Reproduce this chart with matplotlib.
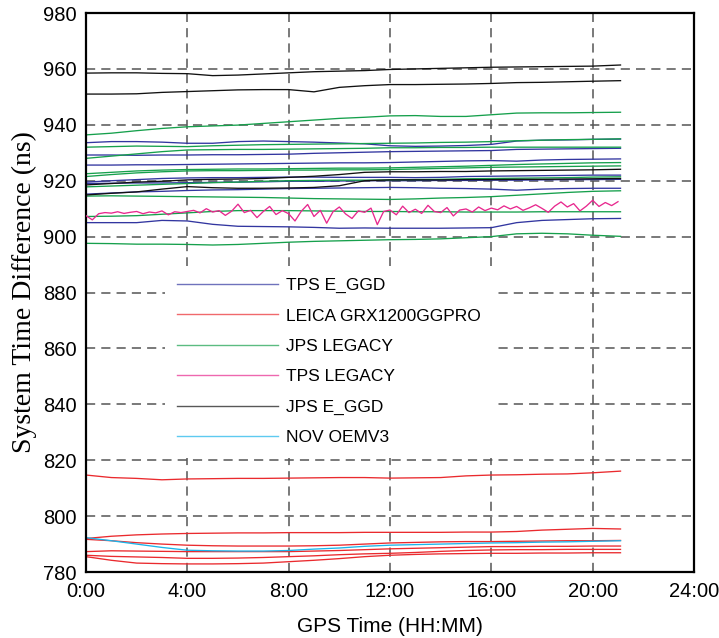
import matplotlib
matplotlib.use("Agg")
import matplotlib.pyplot as plt
from matplotlib.ticker import FuncFormatter

# ---------------- data ----------------
hours = [0, 1, 2, 3, 4, 5, 6, 7, 8, 9, 10, 11, 12, 13, 14, 15, 16, 17, 18, 19, 20, 21.1]

# TPS E_GGD (blue)
tps_eggd_1 = [933.6, 934.0, 934.0, 933.8, 933.4, 933.4, 934.0, 934.2, 934.0, 933.8, 933.5, 933.2, 932.5, 932.3, 932.4, 932.6, 933.0, 934.2, 934.5, 934.6, 934.8, 934.9]
tps_eggd_2 = [929.2, 929.2, 929.1, 929.2, 929.2, 929.3, 929.3, 929.4, 929.5, 929.8, 930.0, 930.2, 930.4, 930.5, 930.6, 930.7, 930.8, 931.2, 931.3, 931.4, 931.5, 931.6]
tps_eggd_3 = [925.6, 925.6, 925.7, 925.7, 925.8, 925.9, 926.0, 926.1, 926.2, 926.3, 926.4, 926.4, 926.5, 926.7, 926.9, 927.1, 927.2, 927.0, 927.4, 927.6, 927.7, 927.8]
tps_eggd_4 = [919.5, 920.0, 920.4, 920.8, 921.0, 921.1, 921.1, 921.2, 921.3, 921.3, 921.2, 921.2, 921.2, 921.1, 921.2, 921.5, 921.6, 921.7, 921.8, 921.9, 922.0, 922.0]
tps_eggd_5 = [915.2, 915.6, 916.0, 916.2, 916.5, 916.7, 916.8, 917.0, 917.2, 917.3, 917.4, 917.5, 917.6, 917.5, 917.3, 917.2, 917.0, 916.6, 917.0, 917.2, 917.3, 917.3]
tps_eggd_6 = [919.0, 919.1, 919.2, 919.2, 919.3, 919.4, 919.5, 919.6, 919.8, 919.8, 919.9, 920.0, 920.0, 920.0, 920.1, 920.1, 920.2, 920.2, 920.3, 920.4, 920.4, 920.5]
tps_eggd_7 = [905.0, 905.0, 905.0, 905.8, 905.6, 904.4, 903.7, 903.6, 903.5, 903.3, 903.0, 903.1, 903.0, 903.0, 903.0, 903.1, 903.2, 905.0, 905.8, 906.1, 906.4, 906.5]

# LEICA GRX1200GGPRO (red)
leica_0 = [814.7, 813.8, 813.5, 813.0, 813.3, 813.4, 813.5, 813.5, 813.6, 813.7, 813.8, 813.8, 813.6, 813.7, 813.8, 814.4, 814.7, 814.8, 815.0, 815.1, 815.5, 816.1]
leica_1 = [792.0, 792.8, 793.3, 793.6, 793.8, 793.9, 794.0, 794.0, 794.1, 794.1, 794.1, 794.2, 794.2, 794.2, 794.2, 794.3, 794.3, 794.5, 795.0, 795.3, 795.6, 795.4]
leica_2 = [791.7, 791.2, 790.5, 790.0, 789.6, 789.4, 789.3, 789.3, 789.3, 789.4, 789.6, 790.0, 790.4, 790.6, 790.8, 790.9, 790.9, 791.0, 791.1, 791.2, 791.2, 791.3]
leica_3 = [787.3, 787.6, 787.5, 787.4, 787.3, 787.3, 787.3, 787.3, 787.3, 787.5, 787.7, 788.0, 788.3, 788.5, 788.7, 788.9, 789.1, 789.1, 789.2, 789.2, 789.3, 789.3]
leica_4 = [786.0, 785.6, 785.4, 785.2, 784.9, 784.9, 785.0, 785.2, 785.5, 785.8, 786.2, 786.5, 786.7, 787.0, 787.4, 787.7, 787.9, 788.0, 788.0, 788.1, 788.1, 788.1]
leica_5 = [785.5, 784.2, 783.2, 783.0, 782.9, 782.9, 783.0, 783.2, 783.7, 784.2, 784.8, 785.5, 786.0, 786.3, 786.5, 786.6, 786.7, 786.7, 786.8, 786.8, 786.9, 786.9]

# JPS LEGACY (green)
jps_leg_1 = [936.4, 937.0, 937.9, 938.7, 939.3, 939.6, 939.9, 940.5, 941.1, 941.7, 942.3, 942.7, 943.2, 943.3, 943.0, 943.0, 943.6, 944.2, 944.3, 944.3, 944.4, 944.5]
jps_leg_2 = [932.0, 932.2, 932.4, 932.3, 932.2, 932.5, 932.7, 932.9, 933.0, 933.1, 933.2, 933.3, 933.4, 933.5, 933.7, 933.8, 934.0, 934.3, 934.5, 934.7, 934.8, 935.0]
jps_leg_3 = [928.0, 928.8, 929.6, 930.4, 931.0, 931.1, 931.2, 931.2, 931.3, 931.4, 931.5, 931.6, 931.8, 931.8, 931.9, 931.9, 932.0, 932.0, 932.0, 932.0, 932.0, 932.0]
jps_leg_4 = [922.5, 923.0, 923.5, 923.8, 924.0, 924.1, 924.2, 924.2, 924.3, 924.4, 924.5, 924.5, 924.6, 924.8, 925.0, 925.2, 925.5, 925.8, 926.0, 926.2, 926.4, 926.5]
jps_leg_5 = [921.5, 922.2, 922.8, 923.2, 923.5, 923.6, 923.6, 923.7, 923.8, 923.8, 923.9, 923.9, 924.0, 924.2, 924.4, 924.6, 924.8, 924.9, 925.0, 925.1, 925.2, 925.3]
jps_leg_6 = [917.8, 918.1, 918.4, 918.7, 919.0, 919.3, 919.5, 919.8, 920.0, 920.1, 920.2, 920.2, 920.3, 920.4, 920.5, 920.7, 920.8, 920.9, 921.0, 921.1, 921.3, 921.4]
jps_leg_7 = [914.5, 914.6, 914.5, 914.4, 914.3, 914.2, 914.1, 914.0, 913.8, 913.6, 913.5, 913.4, 913.3, 913.5, 913.8, 914.0, 914.3, 914.8, 915.3, 915.8, 916.2, 916.4]
jps_leg_8 = [907.2, 907.3, 907.5, 908.0, 908.5, 909.0, 909.3, 909.3, 909.3, 909.2, 909.1, 909.0, 909.0, 908.9, 908.9, 908.8, 908.8, 908.8, 908.9, 908.9, 908.9, 908.9]
jps_leg_9 = [897.6, 897.5, 897.3, 897.3, 897.2, 897.0, 897.2, 897.6, 898.0, 898.3, 898.5, 898.7, 898.9, 899.0, 899.2, 899.6, 900.0, 901.0, 901.2, 901.0, 900.5, 900.1]

# TPS LEGACY (pink), sampled every quarter hour
tps_leg_hours = [i * 0.25 for i in range(85)]
tps_leg = [907.5, 906.0, 908.2, 908.6,
           908.4, 908.9, 908.3, 908.7,
           909.0, 908.2, 908.8, 908.5,
           909.2, 907.8, 908.9, 908.6,
           909.0, 909.4, 908.5, 910.0,
           908.8, 909.3, 907.6, 909.1,
           911.6, 908.6, 909.4, 906.8,
           909.0, 910.8, 907.9, 909.3,
           908.2, 905.6, 909.1, 911.5,
           907.2, 909.4, 904.8, 908.9,
           910.6, 908.1, 906.5, 909.2,
           908.7, 910.2, 904.3, 909.0,
           909.5, 907.8, 910.9, 908.6,
           909.8, 908.3, 911.2, 909.0,
           908.6, 910.4, 907.4, 909.5,
           909.9, 908.8, 910.6, 909.3,
           910.2, 909.6, 911.0, 909.9,
           910.8, 909.4, 910.3, 911.4,
           910.1, 908.7, 910.9, 912.4,
           910.6, 911.8, 909.2, 910.9,
           913.0, 910.8, 912.2, 911.1,
           912.5]

# JPS E_GGD (black)
jps_eggd_1 = [958.5, 958.6, 958.6, 958.4, 958.3, 957.6, 957.8, 958.2, 958.6, 959.0, 959.2, 959.4, 959.8, 960.0, 960.2, 960.4, 960.6, 960.7, 960.8, 960.9, 961.0, 961.4]
jps_eggd_2 = [951.0, 951.0, 951.1, 951.6, 951.9, 952.2, 952.5, 952.6, 952.6, 951.8, 953.4, 954.0, 954.4, 954.4, 954.5, 954.6, 954.8, 955.1, 955.2, 955.4, 955.6, 955.8]
jps_eggd_3 = [914.9, 915.5, 916.0, 917.0, 917.9, 917.5, 917.3, 917.3, 917.4, 917.6, 918.2, 920.0, 920.3, 920.3, 920.3, 920.4, 920.4, 920.5, 920.5, 920.6, 920.7, 920.8]
jps_eggd_4 = [918.5, 919.0, 919.5, 919.8, 920.3, 920.5, 920.6, 920.8, 921.2, 921.6, 922.2, 923.0, 923.2, 923.2, 923.3, 923.3, 923.5, 923.6, 923.7, 923.8, 923.9, 924.1]

# NOV OEMV3 (cyan)
nov_oemv3 = [792.3, 791.2, 790.0, 788.8, 787.8, 787.6, 787.5, 787.5, 787.7, 788.2, 788.6, 789.2, 789.6, 789.8, 790.0, 790.2, 790.4, 790.5, 790.7, 790.8, 791.0, 791.2]

legend_labels = ["TPS E_GGD", "LEICA GRX1200GGPRO", "JPS LEGACY", "TPS LEGACY", "JPS E_GGD", "NOV OEMV3"]
x_ticks = [0, 4, 8, 12, 16, 20, 24]
y_ticks = [780, 800, 820, 840, 860, 880, 900, 920, 940, 960, 980]

# ---------------- styling ----------------
c_blue = "#3236a0"
c_red = "#ea2a2e"
c_green = "#16a04c"
c_pink = "#e8288e"
c_black = "#111111"
c_cyan = "#1ab4ea"
sans = ["Liberation Sans", "DejaVu Sans"]
serif = ["Liberation Serif", "DejaVu Serif"]

fig = plt.figure(figsize=(7.19, 6.38), dpi=100)
ax = fig.add_axes([0.1196, 0.1034, 0.8456, 0.8762])

lw = 0.95
groups = [
    (c_blue, [tps_eggd_1, tps_eggd_2, tps_eggd_3, tps_eggd_4, tps_eggd_5, tps_eggd_6, tps_eggd_7]),
    (c_red, [leica_0, leica_1, leica_2, leica_3, leica_4, leica_5]),
    (c_green, [jps_leg_1, jps_leg_2, jps_leg_3, jps_leg_4, jps_leg_5, jps_leg_6, jps_leg_7, jps_leg_8, jps_leg_9]),
    (None, None),
    (c_black, [jps_eggd_1, jps_eggd_2, jps_eggd_3, jps_eggd_4]),
    (c_cyan, [nov_oemv3]),
]

handles = []
for (color, series), label in zip(groups, legend_labels):
    if series is None:
        h, = ax.plot(tps_leg_hours, tps_leg, color=c_pink, lw=lw, label=label, zorder=3)
        handles.append(h)
        continue
    for i, s in enumerate(series):
        h, = ax.plot(hours, s, color=color, lw=lw, label=label if i == 0 else None, zorder=2)
        if i == 0:
            handles.append(h)

ax.set_xlim(0, 24)
ax.set_ylim(780, 980)
ax.set_xticks(x_ticks)
ax.set_yticks(y_ticks)
ax.xaxis.set_major_formatter(FuncFormatter(lambda v, p: f"{int(v)}:00"))

ax.grid(True, which="major", color="#555555", linestyle=(0, (6, 4)), linewidth=1.1)
ax.set_axisbelow(True)
ax.tick_params(axis="both", length=0, labelsize=14.5, pad=7)
for lab in ax.get_xticklabels() + ax.get_yticklabels():
    lab.set_family(sans)
for sp in ax.spines.values():
    sp.set_linewidth(1.6)
    sp.set_color("black")

ax.set_xlabel("GPS Time (HH:MM)", fontsize=15, family=sans, labelpad=12)
ax.set_ylabel("System Time Difference (ns)", fontsize=20, family=serif, labelpad=4)

leg = ax.legend(handles=handles, labels=legend_labels, loc="upper left",
                bbox_to_anchor=(0.130, 0.548), frameon=True, fancybox=False,
                facecolor="white", edgecolor="none", framealpha=1.0,
                handlelength=5.8, handletextpad=0.45, labelspacing=0.88,
                borderpad=0.7, borderaxespad=0,
                prop={"family": sans, "size": 12.5})
leg.set_zorder(5)
for l in leg.get_lines():
    l.set_linewidth(1.0)
    l.set_alpha(0.7)

fig.savefig("out.png", dpi=100)
